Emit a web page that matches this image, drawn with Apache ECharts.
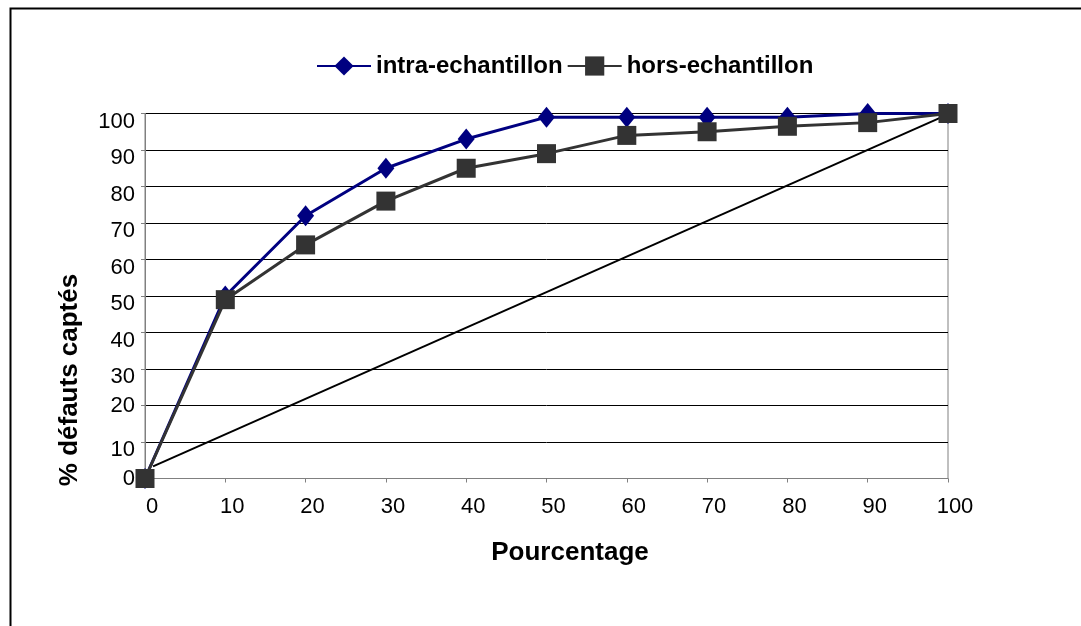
<!DOCTYPE html>
<html>
<head>
<meta charset="utf-8">
<script src="https://cdn.jsdelivr.net/npm/echarts@6/dist/echarts.min.js"></script>
<style>
html,body{margin:0;padding:0;background:#fff;}
#chart{width:1081px;height:626px;}
</style>
</head>
<body>
<div id="chart"></div>
<script>
var xValues = [0, 10, 20, 30, 40, 50, 60, 70, 80, 90, 100];
var intraValues = [0, 50, 72, 85, 93, 99, 99, 99, 99, 100, 100];
var horsValues = [0, 49, 64, 76, 85, 89, 94, 95, 96.5, 97.5, 100];
var diagX = [1, 99];
var diagY = [3.3, 98.8];
var seriesNames = ['intra-echantillon', 'hors-echantillon'];
var xTitle = 'Pourcentage';
var yTitle = '% défauts captés';

function pairs(xs, ys) { return xs.map(function (x, i) { return [x, ys[i]]; }); }

var FONT = '"Liberation Sans", Arial, sans-serif';
var chart = echarts.init(document.getElementById('chart'), null, {renderer: 'canvas'});
chart.setOption({
  animation: false,
  backgroundColor: '#ffffff',
  textStyle: {fontFamily: FONT},
  grid: {left: 145, right: 133, top: 113.5, bottom: 147.5, show: true, borderColor: '#808080', borderWidth: 1, backgroundColor: 'transparent'},
  legend: {
    left: 311, top: 49,
    itemWidth: 54, itemHeight: 24, itemGap: 4,
    data: seriesNames,
    textStyle: {fontFamily: FONT, fontSize: 24, fontWeight: 'bold', color: '#000'}
  },
  xAxis: {
    type: 'value', min: 0, max: 100, interval: 10,
    axisLine: {show: true, lineStyle: {color: '#808080', width: 1}},
    axisTick: {show: true, inside: false, length: 4, lineStyle: {color: '#808080'}},
    axisLabel: {
      margin: 17,
      formatter: function (v) { return '{v|' + v + '}'; },
      rich: {v: {fontFamily: FONT, fontSize: 22, color: '#000', padding: [0, 0, 0, 14]}}
    },
    splitLine: {show: false}
  },
  yAxis: {
    type: 'value', min: 0, max: 100, interval: 10,
    axisLine: {show: true, lineStyle: {color: '#808080', width: 1}},
    axisTick: {show: true, inside: false, length: 4, lineStyle: {color: '#808080'}},
    axisLabel: {
      margin: 10,
      formatter: function (v) { return (v === 0 || v === 20 ? '{a|' : '{b|') + v + '}'; },
      rich: {
        a: {fontFamily: FONT, fontSize: 22, color: '#000'},
        b: {fontFamily: FONT, fontSize: 22, color: '#000', padding: [16, 0, 0, 0]}
      }
    },
    splitLine: {show: true, lineStyle: {color: '#000', width: 1}}
  },
  series: [
    {
      name: 'diag', type: 'line', data: pairs(diagX, diagY),
      symbol: 'none', lineStyle: {color: '#000', width: 2}, itemStyle: {color: '#000'},
      silent: true, z: 1
    },
    {
      name: seriesNames[0], type: 'line', data: pairs(xValues, intraValues),
      symbol: 'diamond', symbolSize: [17, 21],
      lineStyle: {color: '#000080', width: 3}, itemStyle: {color: '#000080'}, z: 2
    },
    {
      name: seriesNames[1], type: 'line', data: pairs(xValues, horsValues),
      symbol: 'rect', symbolSize: 19,
      lineStyle: {color: '#333333', width: 3}, itemStyle: {color: '#333333'}, z: 3
    }
  ],
  graphic: [
    {type: 'rect', left: 8, top: 6, shape: {width: 1200, height: 800}, style: {fill: 'none', stroke: '#000', lineWidth: 2}, silent: true},
    {type: 'text', x: 570, y: 553, style: {text: xTitle, font: 'bold 26px ' + FONT, fill: '#000', textAlign: 'center', textVerticalAlign: 'middle'}},
    {type: 'text', x: 70, y: 380, rotation: Math.PI / 2, style: {text: yTitle, font: 'bold 26px ' + FONT, fill: '#000', textAlign: 'center', textVerticalAlign: 'middle'}}
  ]
});
</script>
</body>
</html>
